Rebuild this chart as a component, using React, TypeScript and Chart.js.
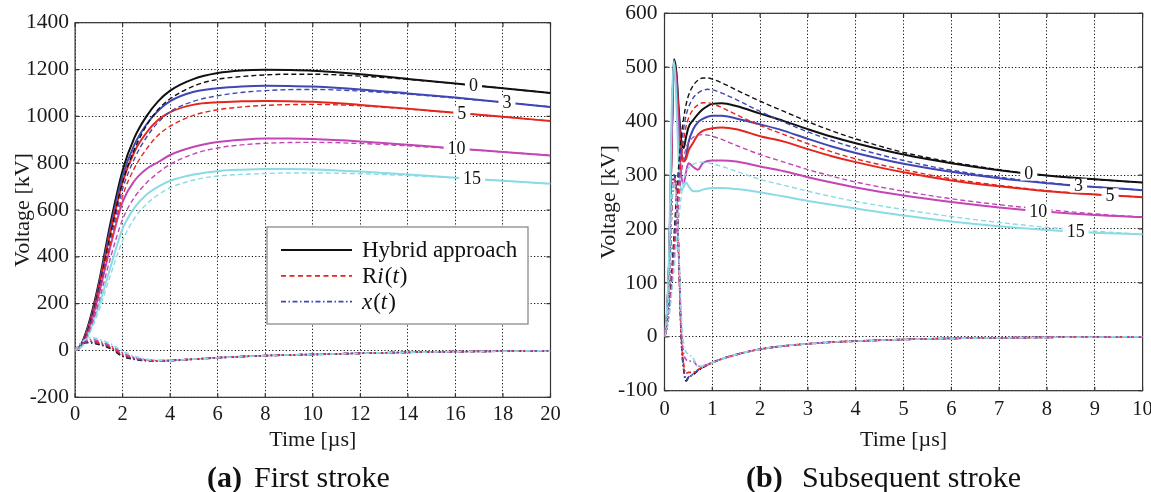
import React, { useEffect, useRef } from 'react';
import { Chart, registerables } from 'chart.js';
Chart.register(...registerables);

const FONT = '"Liberation Serif", "Times New Roman", serif';
const COLORS = ['#111111', '#3f47b3', '#e5261d', '#c445b5', '#8adbe6'];
const CASES = ['0', '3', '5', '10', '15'];

// ---------- (a) First stroke ----------
const firstTime = [0, 0.25, 0.5, 0.75, 1, 1.5, 2, 2.5, 3, 3.5, 4, 5, 6, 7, 8, 9, 10, 12, 14, 16, 18, 20];
const firstXTicks = [0, 2, 4, 6, 8, 10, 12, 14, 16, 18, 20];
const firstYTicks = [-200, 0, 200, 400, 600, 800, 1000, 1200, 1400];

const firstHybrid0 = [0, 25, 90, 180, 290, 550, 770, 910, 1000, 1065, 1110, 1160, 1185, 1196, 1199, 1198, 1195, 1180, 1160, 1140, 1120, 1100];
const firstHybrid3 = [0, 22, 85, 170, 280, 530, 745, 880, 965, 1025, 1065, 1105, 1120, 1128, 1131, 1130, 1127, 1115, 1098, 1080, 1060, 1040];
const firstHybrid5 = [0, 20, 80, 165, 270, 510, 720, 850, 930, 985, 1018, 1050, 1060, 1064, 1066, 1065, 1062, 1049, 1033, 1015, 998, 980];
const firstHybrid10 = [0, 18, 70, 145, 240, 450, 635, 725, 775, 805, 835, 870, 890, 900, 905, 905, 903, 893, 879, 863, 848, 833];
const firstHybrid15 = [0, 15, 55, 120, 190, 360, 520, 610, 665, 700, 725, 752, 766, 772, 775, 775, 773, 764, 752, 738, 725, 712];

const firstRi0 = [0, 20, 75, 160, 265, 500, 720, 860, 960, 1030, 1075, 1130, 1158, 1170, 1177, 1180, 1180, 1172, 1158, 1140, 1120, 1100];
const firstRi3 = [0, 18, 70, 150, 255, 480, 690, 820, 910, 975, 1020, 1065, 1088, 1102, 1110, 1114, 1115, 1108, 1095, 1078, 1060, 1040];
const firstRi5 = [0, 17, 65, 145, 245, 460, 660, 780, 860, 920, 958, 1005, 1028, 1040, 1047, 1050, 1051, 1045, 1031, 1015, 998, 980];
const firstRi10 = [0, 15, 60, 125, 210, 400, 560, 655, 715, 760, 795, 840, 865, 878, 885, 888, 889, 884, 874, 862, 848, 833];
const firstRi15 = [0, 12, 48, 105, 170, 325, 470, 565, 625, 665, 695, 728, 745, 752, 756, 758, 758, 755, 747, 737, 725, 712];

const firstX0 = [0, 28, 33, 32, 26, 8, -25, -38, -44, -45, -43, -37, -31, -26, -22, -19, -17, -12, -8, -5, -3, -1];
const firstX3 = [0, 29, 37, 36, 30, 12, -20, -35, -42, -44, -43, -37, -31, -26, -22, -19, -17, -12, -8, -5, -3, -1];
const firstX5 = [0, 30, 40, 40, 34, 15, -16, -33, -41, -44, -43, -37, -31, -26, -22, -19, -17, -12, -8, -5, -3, -1];
const firstX10 = [0, 31, 45, 46, 40, 20, -10, -30, -40, -43, -43, -37, -31, -26, -22, -19, -17, -12, -8, -5, -3, -1];
const firstX15 = [0, 32, 50, 54, 48, 28, -3, -25, -37, -42, -42, -37, -31, -26, -22, -19, -17, -12, -8, -5, -3, -1];

const firstLabelTimes = [16.76, 18.17, 16.27, 16.05, 16.7];

// ---------- (b) Subsequent stroke ----------
const subTime = [0, 0.05, 0.1, 0.15, 0.2, 0.25, 0.3, 0.35, 0.4, 0.45, 0.5, 0.6, 0.7, 0.8, 0.9, 1, 1.2, 1.5, 2, 2.5, 3, 3.5, 4, 5, 6, 7, 8, 9, 10];
const subXTicks = [0, 1, 2, 3, 4, 5, 6, 7, 8, 9, 10];
const subYTicks = [-100, 0, 100, 200, 300, 400, 500, 600];

const subHybrid0 = [0, 40, 150, 360, 515, 490, 420, 365, 350, 370, 388, 402, 413, 422, 428, 432, 433, 428, 414, 400, 385, 371, 359, 338, 322, 309, 299, 292, 286];
const subHybrid3 = [0, 40, 150, 360, 508, 480, 405, 345, 328, 335, 360, 385, 398, 404, 408, 410, 410, 405, 394, 382, 367, 353, 341, 321, 306, 294, 285, 278, 272];
const subHybrid5 = [0, 40, 150, 360, 505, 475, 400, 340, 325, 330, 345, 360, 375, 382, 385, 387, 388, 385, 372, 362, 348, 335, 324, 305, 290, 279, 270, 264, 259];
const subHybrid10 = [0, 40, 155, 370, 505, 460, 370, 300, 285, 305, 322, 315, 310, 322, 326, 327, 327, 325, 316, 307, 296, 286, 277, 262, 250, 240, 232, 226, 222];
const subHybrid15 = [0, 45, 170, 420, 512, 430, 320, 272, 278, 286, 280, 270, 270, 273, 275, 276, 276, 274, 268, 260, 252, 245, 238, 225, 214, 205, 198, 193, 190];

const subRi0 = [0, 20, 60, 120, 190, 260, 320, 370, 405, 430, 447, 466, 476, 480, 480, 478, 471, 458, 437, 418, 399, 382, 367, 342, 324, 310, 299, 292, 286];
const subRi3 = [0, 18, 55, 110, 175, 240, 300, 350, 385, 410, 425, 443, 452, 457, 459, 458, 452, 440, 418, 398, 380, 364, 350, 327, 309, 296, 286, 278, 272];
const subRi5 = [0, 17, 50, 100, 160, 220, 280, 330, 365, 390, 405, 422, 430, 434, 434, 432, 425, 412, 392, 375, 358, 343, 330, 310, 293, 281, 271, 264, 259];
const subRi10 = [0, 15, 45, 90, 145, 200, 250, 300, 330, 350, 360, 370, 374, 375, 374, 372, 366, 355, 338, 324, 310, 298, 287, 270, 256, 245, 236, 228, 222];
const subRi15 = [0, 13, 40, 80, 125, 175, 220, 260, 290, 305, 313, 320, 323, 324, 323, 321, 316, 307, 292, 281, 270, 260, 251, 236, 223, 212, 203, 196, 190];

const subX0 = [0, 20, 90, 240, 300, 270, 150, 0, -60, -82, -76, -70, -63, -57, -52, -48, -41, -33, -23, -17, -13, -10, -8, -5, -3, -2, -1, -0.5, 0];
const subX3 = [0, 20, 90, 240, 300, 265, 145, 0, -58, -80, -75, -69, -62, -57, -52, -48, -41, -33, -23, -17, -13, -10, -8, -5, -3, -2, -1, -0.5, 0];
const subX5 = [0, 20, 90, 240, 295, 260, 140, 5, -50, -68, -66, -66, -61, -56, -52, -48, -41, -33, -23, -17, -13, -10, -8, -5, -3, -2, -1, -0.5, 0];
const subX10 = [0, 20, 95, 245, 290, 255, 150, 20, -30, -42, -45, -45, -55, -54, -51, -48, -41, -33, -23, -17, -13, -10, -8, -5, -3, -2, -1, -0.5, 0];
const subX15 = [0, 22, 100, 250, 285, 250, 160, 40, -15, -28, -32, -40, -55, -54, -51, -48, -41, -33, -23, -17, -13, -10, -8, -5, -3, -2, -1, -0.5, 0];

const subLabelTimes = [7.62, 8.66, 9.32, 7.82, 8.6];

type Seg = { text: string; italic?: boolean };
const legendItems: { color: string; dash: number[]; width: number; segs: Seg[] }[] = [
  { color: '#111111', dash: [], width: 2.2, segs: [{ text: 'Hybrid approach' }] },
  { color: '#e5261d', dash: [5, 3.5], width: 1.8, segs: [{ text: 'R' }, { text: 'i', italic: true }, { text: '(' }, { text: 't', italic: true }, { text: ')' }] },
  { color: '#3f47b3', dash: [5, 2.5, 1.5, 2.5], width: 1.8, segs: [{ text: 'x', italic: true }, { text: '(' }, { text: 't', italic: true }, { text: ')' }] },
];

function interp(time: number[], vals: number[], t: number) {
  for (let i = 1; i < time.length; i++) {
    if (t <= time[i]) {
      const f = (t - time[i - 1]) / (time[i] - time[i - 1]);
      return vals[i - 1] + f * (vals[i] - vals[i - 1]);
    }
  }
  return vals[vals.length - 1];
}

function makeSets(time: number[], hybrid: number[][], ri: number[][], xt: number[][]) {
  const pts = (arr: number[]) => arr.map((y, i) => ({ x: time[i], y }));
  const common = { pointRadius: 0, fill: false, cubicInterpolationMode: 'monotone' as const };
  const sets: any[] = [];
  for (let k = 4; k >= 0; k--)
    sets.push({ ...common, label: 'x(t) ' + CASES[k], data: pts(xt[k]), borderColor: COLORS[k], borderWidth: 1.7, borderDash: [5, 2.5, 1.5, 2.5] });
  for (let k = 4; k >= 0; k--)
    sets.push({ ...common, label: 'Ri(t) ' + CASES[k], data: pts(ri[k]), borderColor: COLORS[k], borderWidth: 1.4, borderDash: [5, 3] });
  for (let k = 4; k >= 0; k--)
    sets.push({ ...common, label: 'Hybrid ' + CASES[k], data: pts(hybrid[k]), borderColor: COLORS[k], borderWidth: 2 });
  return sets;
}

function framePlugin() {
  return {
    id: 'frame',
    beforeDatasetsDraw(chart: any) {
      const { ctx, chartArea: a, scales } = chart;
      ctx.save();
      ctx.strokeStyle = '#333';
      ctx.lineWidth = 1.2;
      ctx.setLineDash([]);
      ctx.strokeRect(a.left, a.top, a.right - a.left, a.bottom - a.top);
      const tl = 4;
      ctx.beginPath();
      scales.x.ticks.forEach((t: any) => {
        const p = scales.x.getPixelForValue(t.value);
        ctx.moveTo(p, a.bottom); ctx.lineTo(p, a.bottom - tl);
        ctx.moveTo(p, a.top); ctx.lineTo(p, a.top + tl);
      });
      scales.y.ticks.forEach((t: any) => {
        const p = scales.y.getPixelForValue(t.value);
        ctx.moveTo(a.left, p); ctx.lineTo(a.left + tl, p);
        ctx.moveTo(a.right, p); ctx.lineTo(a.right - tl, p);
      });
      ctx.stroke();
      ctx.restore();
    },
  };
}

function labelPlugin(time: number[], hybrid: number[][], times: number[]) {
  return {
    id: 'curveLabels',
    afterDatasetsDraw(chart: any) {
      const { ctx, scales } = chart;
      ctx.save();
      ctx.font = `18px ${FONT}`;
      ctx.textAlign = 'center';
      ctx.textBaseline = 'middle';
      times.forEach((t, k) => {
        const v = interp(time, hybrid[k], t);
        const px = scales.x.getPixelForValue(t);
        const py = scales.y.getPixelForValue(v);
        const w = ctx.measureText(CASES[k]).width + 8;
        ctx.fillStyle = '#fff';
        ctx.fillRect(px - w / 2, py - 7, w, 14);
        ctx.fillStyle = '#111';
        ctx.fillText(CASES[k], px, py + 1);
      });
      ctx.restore();
    },
  };
}

function drawSegs(ctx: CanvasRenderingContext2D, segs: Seg[], x: number, y: number, size: number) {
  let cx = x;
  segs.forEach((s) => {
    ctx.font = `${s.italic ? 'italic ' : ''}${size}px ${FONT}`;
    ctx.fillText(s.text, cx, y);
    cx += ctx.measureText(s.text).width + (s.italic ? 1 : 0);
  });
}

function legendPlugin() {
  return {
    id: 'richLegend',
    afterDatasetsDraw(chart: any) {
      const { ctx } = chart;
      const bx = 267, by = 227, bw = 261, bh = 97;
      ctx.save();
      ctx.fillStyle = '#fff';
      ctx.fillRect(bx, by, bw, bh);
      ctx.strokeStyle = '#8a8a8a';
      ctx.lineWidth = 1.3;
      ctx.setLineDash([]);
      ctx.strokeRect(bx, by, bw, bh);
      legendItems.forEach((it, i) => {
        const y = 250 + i * 25.8;
        ctx.beginPath();
        ctx.strokeStyle = it.color;
        ctx.lineWidth = it.width;
        ctx.setLineDash(it.dash);
        ctx.moveTo(281, y);
        ctx.lineTo(352, y);
        ctx.stroke();
        ctx.setLineDash([]);
        ctx.fillStyle = '#111';
        ctx.textAlign = 'left';
        ctx.textBaseline = 'middle';
        drawSegs(ctx, it.segs, 362, y + 1, 23);
      });
      ctx.restore();
    },
  };
}

function captionPlugin(bold: string, rest: string, xBold: number, xRest: number) {
  return {
    id: 'caption',
    afterDraw(chart: any) {
      const { ctx } = chart;
      ctx.save();
      ctx.fillStyle = '#111';
      ctx.textAlign = 'left';
      ctx.textBaseline = 'middle';
      ctx.font = `bold 30px ${FONT}`;
      ctx.fillText(bold, xBold, 479);
      ctx.font = `30px ${FONT}`;
      ctx.fillText(rest, xRest, 479);
      ctx.restore();
    },
  };
}

function buildOptions(cfg: {
  xMin: number; xMax: number; yMin: number; yMax: number; xTicks: number[]; yTicks: number[];
  padLeft: number; padTop: number; padRight: number; yWidth: number; xHeight: number; padBottom: number;
  yTickPad: number; xTickPad: number;
}) {
  const yTickFont = { family: FONT, size: 21.5 };
  const xTickFont = { family: FONT, size: 20.5 };
  const titleFont = { family: FONT, size: 22 };
  return {
    responsive: false,
    animation: false as const,
    layout: { padding: { left: cfg.padLeft, top: cfg.padTop, right: cfg.padRight, bottom: cfg.padBottom } },
    plugins: { legend: { display: false }, tooltip: { enabled: false } },
    scales: {
      x: {
        type: 'linear' as const,
        min: cfg.xMin,
        max: cfg.xMax,
        afterBuildTicks: (s: any) => { s.ticks = cfg.xTicks.map((v) => ({ value: v })); },
        afterFit: (s: any) => { s.height = cfg.xHeight; s.paddingLeft = 0; s.paddingRight = 0; },
        ticks: { font: xTickFont, color: '#1a1a1a', padding: cfg.xTickPad, maxRotation: 0, callback: (v: any) => String(v) },
        grid: { color: '#111', lineWidth: 1, drawTicks: false },
        border: { display: false, dash: [1.2, 2.2] },
        title: { display: true, text: 'Time [µs]', font: titleFont, color: '#1a1a1a', padding: 0 },
      },
      y: {
        min: cfg.yMin,
        max: cfg.yMax,
        afterBuildTicks: (s: any) => { s.ticks = cfg.yTicks.map((v) => ({ value: v })); },
        afterFit: (s: any) => { s.width = cfg.yWidth; s.paddingTop = 0; s.paddingBottom = 0; },
        ticks: { font: yTickFont, color: '#1a1a1a', padding: cfg.yTickPad, callback: (v: any) => String(v) },
        grid: { color: '#111', lineWidth: 1, drawTicks: false },
        border: { display: false, dash: [1.2, 2.2] },
        title: { display: true, text: 'Voltage [kV]', font: titleFont, color: '#1a1a1a', padding: 0 },
      },
    },
  };
}

export default function App() {
  const leftRef = useRef<HTMLCanvasElement>(null);
  const rightRef = useRef<HTMLCanvasElement>(null);

  useEffect(() => {
    const fh = [firstHybrid0, firstHybrid3, firstHybrid5, firstHybrid10, firstHybrid15];
    const fr = [firstRi0, firstRi3, firstRi5, firstRi10, firstRi15];
    const fx = [firstX0, firstX3, firstX5, firstX10, firstX15];
    const sh = [subHybrid0, subHybrid3, subHybrid5, subHybrid10, subHybrid15];
    const sr = [subRi0, subRi3, subRi5, subRi10, subRi15];
    const sx = [subX0, subX3, subX5, subX10, subX15];

    const left = new Chart(leftRef.current as HTMLCanvasElement, {
      type: 'line',
      data: { datasets: makeSets(firstTime, fh, fr, fx) },
      options: buildOptions({
        xMin: 0, xMax: 20, yMin: -200, yMax: 1400, xTicks: firstXTicks, yTicks: firstYTicks,
        padLeft: 10, padTop: 22.7, padRight: 29.5, yWidth: 65.1, xHeight: 56.6, padBottom: 38.1,
        yTickPad: 6, xTickPad: 5.5,
      }) as any,
      plugins: [framePlugin(), labelPlugin(firstTime, fh, firstLabelTimes), legendPlugin(), captionPlugin('(a)', 'First stroke', 207, 254)],
    });

    const right = new Chart(rightRef.current as HTMLCanvasElement, {
      type: 'line',
      data: { datasets: makeSets(subTime, sh, sr, sx) },
      options: buildOptions({
        xMin: 0, xMax: 10, yMin: -100, yMax: 600, xTicks: subXTicks, yTicks: subYTicks,
        padLeft: 16, padTop: 13.3, padRight: 8.4, yWidth: 68.5, xHeight: 63.2, padBottom: 38.1,
        yTickPad: 7, xTickPad: 6.5,
      }) as any,
      plugins: [framePlugin(), labelPlugin(subTime, sh, subLabelTimes), captionPlugin('(b)', 'Subsequent stroke', 166, 222)],
    });

    return () => { left.destroy(); right.destroy(); };
  }, []);

  return (
    <div style={{ position: 'fixed', left: 0, top: 0, width: 1151, height: 492, background: '#fff', overflow: 'hidden' }}>
      <canvas ref={leftRef} width={580} height={492} style={{ position: 'absolute', left: 0, top: 0, display: 'block' }} />
      <canvas ref={rightRef} width={571} height={492} style={{ position: 'absolute', left: 580, top: 0, display: 'block' }} />
    </div>
  );
}
